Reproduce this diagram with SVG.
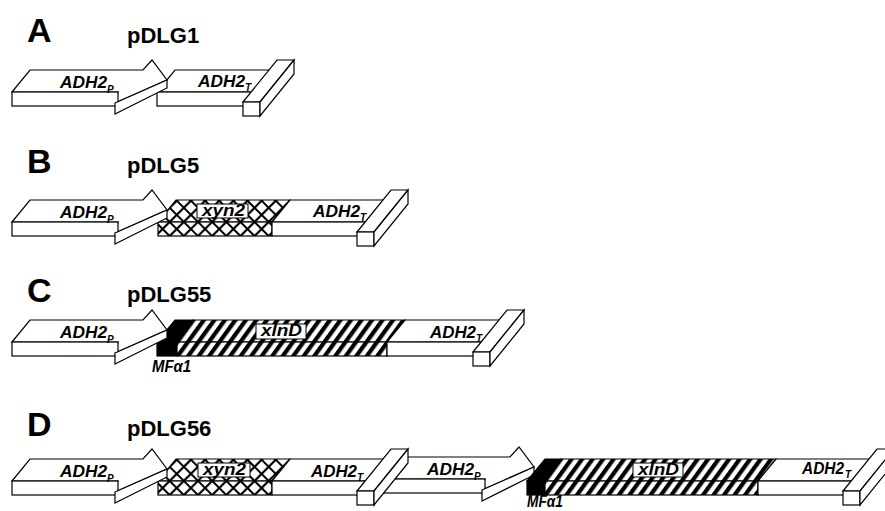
<svg xmlns="http://www.w3.org/2000/svg" width="885" height="511" viewBox="0 0 885 511">
<style>
.f{fill:#fff;stroke:#000;stroke-width:1.2;stroke-linejoin:miter}
.k{fill:#000;stroke:#000;stroke-width:1.2}
.xh{fill:url(#xh);stroke:#000;stroke-width:1.2}
.st{fill:url(#st);stroke:#000;stroke-width:1.2}
.lb{fill:#fff;stroke:#000;stroke-width:1}
.t{font-family:"Liberation Sans",Arial,sans-serif;font-weight:bold;font-style:italic;font-size:16px;fill:#000}
.s{font-family:"Liberation Sans",Arial,sans-serif;font-weight:bold;font-style:italic;font-size:10px;fill:#000}
.ttl{font-family:"Liberation Sans",Arial,sans-serif;font-weight:bold;fill:#000}
</style>
<defs>
<pattern id="xh" width="10" height="10" patternUnits="userSpaceOnUse" patternTransform="rotate(45)">
<rect width="10" height="10" fill="#fff"/>
<path d="M0 5H10M5 0V10" stroke="#000" stroke-width="2.2"/>
</pattern>
<pattern id="st" width="8.5" height="10" patternUnits="userSpaceOnUse" patternTransform="rotate(36)">
<rect width="8.5" height="10" fill="#fff"/>
<rect width="4.2" height="10" fill="#000"/>
</pattern>
<g id="prom">
<polygon class="f" points="12,92 30,70 143,70 152,60 167,80 115,103 118,92"/>
<rect class="f" x="12" y="92" width="106" height="14"/>
<polygon class="f" points="115,103 167,80 167,88 115,114"/>
<text class="t" x="60" y="88" textLength="47" lengthAdjust="spacingAndGlyphs">ADH2</text>
<text class="s" x="107" y="93">P</text>
</g>
</defs>

<!-- Panel A -->
<g id="panelA">
<g id="titleA"><text class="ttl" x="27" y="42" font-size="34">A</text><text class="ttl" x="127" y="43" font-size="22">pDLG1</text></g>
<g id="termA">
<polygon class="f" points="157,92 175,70 280,70 262,92"/>
<rect class="f" x="157" y="92" width="98" height="14"/>
<polygon class="f" points="243,102 260,102 294,60 277,60"/>
<rect class="f" x="243" y="102" width="17" height="14"/>
<polygon class="f" points="260,102 294,60 294,74 260,116"/>
<text class="t" x="198" y="87" textLength="47" lengthAdjust="spacingAndGlyphs">ADH2</text>
<text class="s" x="245" y="91">T</text>
</g>
<g id="promA"><use href="#prom"/></g>
</g>

<!-- Panel B -->
<g id="panelB" transform="translate(0,130)">
<g id="titleB"><text class="ttl" x="27" y="43" font-size="34">B</text><text class="ttl" x="127" y="43" font-size="22">pDLG5</text></g>
<g id="xyn2B">
<polygon class="xh" points="158,92 176,70 290,70 272,92"/>
<rect class="xh" x="158" y="92" width="114" height="14"/>
<rect class="lb" x="197" y="74" width="51" height="14"/>
<text class="t" x="202" y="86" textLength="43" lengthAdjust="spacingAndGlyphs">xyn2</text>
</g>
<g id="termB">
<polygon class="f" points="272,92 290,70 394,70 376,92"/>
<rect class="f" x="272" y="92" width="97" height="14"/>
<polygon class="f" points="357,102 374,102 408,60 391,60"/>
<rect class="f" x="357" y="102" width="17" height="14"/>
<polygon class="f" points="374,102 408,60 408,74 374,116"/>
<text class="t" x="313" y="87" textLength="47" lengthAdjust="spacingAndGlyphs">ADH2</text>
<text class="s" x="360" y="91">T</text>
</g>
<g id="promB"><use href="#prom"/></g>
</g>

<!-- Panel C -->
<g id="panelC" transform="translate(0,250)">
<g id="titleC"><text class="ttl" x="27" y="52" font-size="34">C</text><text class="ttl" x="127" y="52" font-size="22">pDLG55</text></g>
<g id="mfC">
<polygon class="k" points="157,92 175,70 193,70 177,92"/>
<rect class="k" x="157" y="92" width="20" height="14"/>
<text class="t" x="152" y="122" font-size="15" textLength="39" lengthAdjust="spacingAndGlyphs">MFα1</text>
</g>
<g id="xlnDC">
<polygon class="st" points="177,92 193,70 405,70 387,92"/>
<rect class="st" x="177" y="92" width="210" height="14"/>
<rect class="lb" x="256" y="74" width="50" height="15"/>
<text class="t" x="261" y="86" textLength="41" lengthAdjust="spacingAndGlyphs">xlnD</text>
</g>
<g id="termC">
<polygon class="f" points="387,92 405,70 510,70 492,92"/>
<rect class="f" x="387" y="92" width="98" height="14"/>
<polygon class="f" points="473,102 490,102 524,60 507,60"/>
<rect class="f" x="473" y="102" width="17" height="14"/>
<polygon class="f" points="490,102 524,60 524,74 490,116"/>
<text class="t" x="430" y="88" textLength="46" lengthAdjust="spacingAndGlyphs">ADH2</text>
<text class="s" x="476" y="92">T</text>
</g>
<g id="promC"><use href="#prom"/></g>
</g>

<!-- Panel D -->
<g id="panelD" transform="translate(0,389)">
<g id="titleD"><text class="ttl" x="27" y="47" font-size="34">D</text><text class="ttl" x="127" y="47" font-size="22">pDLG56</text></g>
<g id="xyn2D">
<polygon class="xh" points="158,92 176,70 290,70 272,92"/>
<rect class="xh" x="158" y="92" width="114" height="14"/>
<rect class="lb" x="198" y="74" width="52" height="14"/>
<text class="t" x="203" y="86" textLength="43" lengthAdjust="spacingAndGlyphs">xyn2</text>
</g>
<g id="term1D">
<polygon class="f" points="272,92 290,70 394,70 376,92"/>
<rect class="f" x="272" y="92" width="97" height="14"/>
<text class="t" x="311" y="88" textLength="46" lengthAdjust="spacingAndGlyphs">ADH2</text>
<text class="s" x="357" y="92">T</text>
</g>
<g id="prom2D"><use href="#prom" transform="translate(367,-2)"/></g>
<g id="term1Dbar">
<polygon class="f" points="357,102 374,102 408,60 391,60"/>
<rect class="f" x="357" y="102" width="17" height="14"/>
<polygon class="f" points="374,102 408,60 408,74 374,116"/>
</g>
<g id="mfD">
<polygon class="k" points="527,92 545,70 561,70 545,92"/>
<rect class="k" x="527" y="92" width="18" height="14"/>
<text class="t" x="527" y="118" font-size="13" textLength="36" lengthAdjust="spacingAndGlyphs">MFα1</text>
</g>
<g id="xlnDD">
<polygon class="st" points="545,92 561,70 776,70 758,92"/>
<rect class="st" x="545" y="92" width="213" height="14"/>
<rect class="lb" x="633" y="74" width="50" height="14"/>
<text class="t" x="638" y="86" textLength="41" lengthAdjust="spacingAndGlyphs">xlnD</text>
</g>
<g id="term2D">
<polygon class="f" points="758,92 776,70 880,70 862,92"/>
<rect class="f" x="758" y="92" width="97" height="14"/>
<polygon class="f" points="843,102 860,102 894,60 877,60"/>
<rect class="f" x="843" y="102" width="17" height="14"/>
<polygon class="f" points="860,102 894,60 894,74 860,116"/>
<text class="t" x="802" y="85" textLength="42" lengthAdjust="spacingAndGlyphs">ADH2</text>
<text class="s" x="845" y="89">T</text>
</g>
<g id="promD"><use href="#prom"/></g>
</g>
<g id="connectors"/>
</svg>
